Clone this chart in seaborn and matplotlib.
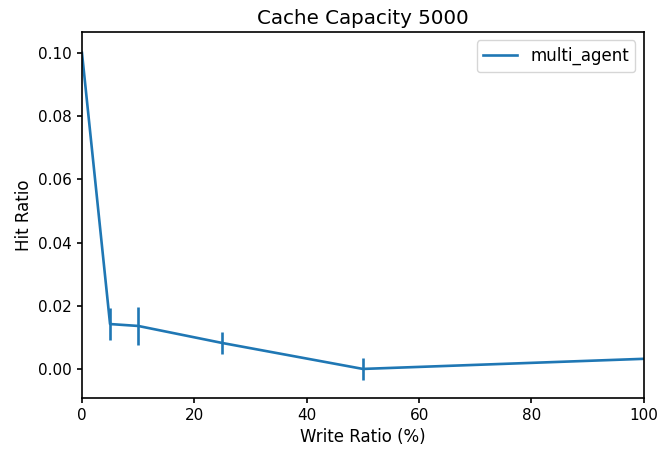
import matplotlib
matplotlib.use("Agg")
import matplotlib.pyplot as plt
import pandas as pd
import seaborn as sns

write_ratio = [0, 5, 10, 25, 50, 100]
hit_ratio = [0.1000, 0.0142, 0.0136, 0.0082, 0.0000, 0.0032]
hit_err = [0.0, 0.0052, 0.0059, 0.0035, 0.0036, 0.0]

df = pd.DataFrame({"Write Ratio (%)": write_ratio, "Hit Ratio": hit_ratio, "err": hit_err})

plt.rcParams["axes.linewidth"] = 1.2
plt.rcParams["xtick.major.width"] = 1.2
plt.rcParams["ytick.major.width"] = 1.2
plt.rcParams["xtick.labelsize"] = 11
plt.rcParams["ytick.labelsize"] = 11

fig, ax = plt.subplots(figsize=(6.61, 4.51), dpi=100)
fig.subplots_adjust(left=0.124, right=0.974, top=0.929, bottom=0.1175)

sns.lineplot(data=df, x="Write Ratio (%)", y="Hit Ratio", ax=ax,
             color="#1f77b4", linewidth=1.9, label="multi_agent")
ax.errorbar(df["Write Ratio (%)"], df["Hit Ratio"], yerr=df["err"],
            fmt="none", ecolor="#1f77b4", elinewidth=1.9, capsize=0)

ax.set_xlim(0, 100)
ax.set_ylim(-0.0092, 0.1066)
ax.set_title("Cache Capacity 5000", fontsize=14.3)
ax.set_xlabel("Write Ratio (%)", fontsize=12)
ax.set_ylabel("Hit Ratio", fontsize=12)
ax.legend(loc="upper right", fontsize=12)

plt.savefig("out.png", dpi=100)
